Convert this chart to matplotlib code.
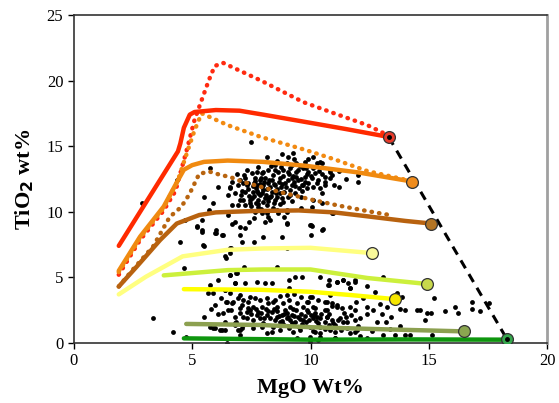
import matplotlib
matplotlib.use("Agg")
import matplotlib.pyplot as plt

plt.rcParams['font.family'] = ['Liberation Serif', 'DejaVu Serif']

# model curves (MgO, TiO2)
red_solid_x = [1.9, 4.4, 4.5, 4.65, 4.9, 5.1, 6.0, 7.0, 8.0, 9.6, 11.5, 13.3]
red_solid_y = [7.4, 14.6, 15.2, 16.4, 17.4, 17.6, 17.75, 17.7, 17.4, 16.9, 16.3, 15.7]

red_dot_x = [1.9, 2.8, 3.8, 4.3, 4.8, 5.1, 5.4, 5.7, 5.95, 6.3, 7.9, 9.7, 11.0, 12.4, 13.3]
red_dot_y = [5.2, 7.85, 10.1, 11.6, 14.9, 17.0, 18.5, 20.0, 21.1, 21.35, 20.0, 18.35, 17.5, 16.6, 15.8]

orange_dot_x = [1.9, 2.8, 3.8, 4.4, 4.8, 5.1, 5.4, 6.5, 7.9, 9.8, 11.0, 12.4, 14.1]
orange_dot_y = [5.4, 8.0, 10.3, 12.4, 14.6, 16.2, 17.5, 16.6, 15.7, 14.7, 14.0, 13.1, 12.4]

orange_x = [1.9, 2.8, 3.8, 4.4, 4.65, 5.0, 5.5, 6.5, 8.0, 9.8, 12.0, 14.3]
orange_y = [5.5, 8.1, 10.4, 12.4, 13.2, 13.55, 13.8, 13.9, 13.8, 13.5, 13.0, 12.3]

brown_dot_x = [1.9, 2.5, 3.35, 4.05, 4.5, 4.7, 4.9, 5.3, 5.75, 6.2, 6.6, 7.1, 8.7, 10.1, 11.1, 12.4, 13.5]
brown_dot_y = [4.3, 5.6, 7.35, 9.6, 10.3, 10.8, 11.4, 12.9, 13.05, 12.8, 12.65, 12.3, 11.5, 10.9, 10.5, 10.05, 9.7]

brown_x = [1.9, 2.65, 3.65, 4.35, 5.3, 6.0, 7.5, 9.5, 11.0, 12.4, 14.0, 15.1]
brown_y = [4.3, 5.8, 7.85, 9.1, 9.75, 9.95, 10.05, 10.1, 9.95, 9.65, 9.3, 9.1]

lyellow_x = [1.9, 3.05, 4.6, 6.5, 8.0, 10.0, 12.6]
lyellow_y = [3.7, 5.05, 6.6, 7.1, 7.2, 7.25, 6.85]

ygreen_x = [3.8, 6.5, 8.0, 10.0, 12.4, 14.9]
ygreen_y = [5.15, 5.55, 5.6, 5.6, 4.95, 4.5]

yellow_x = [4.65, 7.9, 10.0, 11.7, 13.5]
yellow_y = [4.1, 4.05, 3.9, 3.65, 3.35]

olive_x = [4.75, 7.9, 10.0, 13.1, 16.5]
olive_y = [1.45, 1.37, 1.2, 1.04, 0.88]

green_x = [4.65, 10.0, 14.0, 18.3]
green_y = [0.35, 0.25, 0.27, 0.25]

# end-member dots and the dashed join
end_x = [13.3, 14.3, 15.1, 12.6, 14.9, 13.55, 16.5, 18.3]
end_y = [15.7, 12.3, 9.1, 6.85, 4.5, 3.35, 0.9, 0.28]
end_colors = ['#e83a2a', '#f08c1c', '#b37424', '#f8f89a', '#c8d84c',
              '#f6e600', '#8aa650', '#35a64c']

dash_x = [13.3, 18.3]
dash_y = [15.7, 0.28]

# sample analyses
samples = [
    (8.15, 14.15), (8.81, 14.41), (9.03, 14.2), (9.27, 14.5), (8.5, 13.57), (9.0, 13.7),
    (9.2, 13.57), (9.4, 13.7), (9.77, 13.82), (10.26, 13.7), (10.47, 13.7), (7.3, 13.19),
    (7.51, 12.93), (7.72, 13.06), (7.94, 12.93), (8.22, 13.19), (8.64, 13.06), (8.85, 13.19),
    (9.13, 13.31), (9.49, 13.19), (9.91, 13.06), (10.19, 12.93), (10.82, 13.06), (7.02, 12.42),
    (7.23, 12.55), (7.65, 12.55), (7.86, 12.42), (8.08, 12.55), (8.36, 12.42), (8.71, 12.55),
    (9.2, 12.55), (9.4, 12.68), (9.77, 12.68), (10.05, 12.55), (10.61, 12.68), (10.82, 12.55),
    (6.95, 12.04), (7.37, 12.17), (7.72, 12.04), (7.94, 11.92), (8.22, 12.17), (8.5, 12.04),
    (8.92, 12.17), (9.2, 12.04), (9.63, 12.04), (10.12, 11.92), (10.26, 12.17), (10.61, 12.04),
    (6.53, 11.28), (6.81, 11.41), (7.23, 11.53), (7.58, 11.53), (7.79, 11.41), (8.0, 11.66),
    (8.36, 11.53), (8.71, 11.41), (9.13, 11.66), (9.34, 11.41), (9.84, 11.79), (7.16, 10.9),
    (7.51, 11.03), (7.79, 10.9), (8.08, 11.03), (8.5, 10.9), (8.78, 11.03), (9.06, 11.15),
    (6.67, 10.52), (6.95, 10.52), (7.44, 10.65), (7.79, 10.39), (8.15, 10.52), (7.65, 10.01),
    (7.94, 9.88), (8.22, 9.63), (8.64, 9.88), (8.99, 10.01), (8.08, 9.25), (6.53, 9.76),
    (6.81, 9.25), (7.02, 8.87), (7.23, 8.74), (8.99, 9.12), (9.98, 8.99), (10.97, 9.88),
    (9.91, 12.17), (10.4, 11.79), (6.6, 11.92), (8.15, 9.88), (7.86, 11.28), (8.29, 11.15),
    (7.6, 12.2), (7.7, 11.8), (7.9, 12.6), (8.0, 12.0), (8.1, 11.3), (8.3, 11.9), (8.4, 12.8),
    (8.6, 11.7), (8.8, 12.1), (8.9, 11.5), (9.1, 12.9), (9.3, 12.3), (9.5, 11.8), (9.6, 12.5),
    (9.8, 13.3), (8.2, 10.8), (7.4, 11.2), (7.3, 12.0), (7.1, 11.6), (7.5, 10.4), (7.7, 10.7),
    (7.9, 10.2), (8.4, 10.3), (8.7, 10.6), (9.2, 10.8), (7.8, 13.4), (8.5, 13.2), (9.4, 13.0),
    (10.0, 12.7), (10.3, 12.4), (8.0, 13.0), (7.2, 12.8), (6.9, 12.9), (6.7, 12.3), (6.6, 11.8),
    (7.0, 10.9), (8.3, 9.4), (8.9, 9.6), (9.6, 10.3), (7.6, 9.5), (7.4, 9.2), (9.7, 12.0),
    (10.6, 12.3), (10.9, 12.8), (11.2, 13.1), (11.0, 12.0), (11.5, 12.5), (9.3, 14.0),
    (8.6, 13.9), (9.9, 14.0),
    (7.55, 11.95), (7.65, 12.35), (7.75, 11.6), (7.85, 12.15), (7.95, 11.45), (8.05, 12.3),
    (8.15, 11.75), (8.25, 12.45), (8.35, 11.2), (8.45, 12.1), (8.55, 11.45), (8.65, 12.25),
    (8.75, 11.85), (8.85, 12.75), (8.95, 11.9), (9.05, 12.45), (9.15, 11.3), (9.25, 12.7),
    (9.35, 11.95), (9.45, 12.45), (9.55, 13.45), (9.65, 11.6), (9.75, 12.3), (9.85, 12.9),
    (7.45, 10.9), (7.6, 11.2), (7.8, 10.6), (8.0, 10.75), (8.2, 11.05), (8.45, 10.65),
    (8.6, 11.15), (8.85, 10.75), (7.35, 11.75), (7.15, 12.2), (7.05, 11.3), (7.25, 10.5),
    (8.35, 13.5), (8.75, 13.4), (9.05, 13.05), (10.1, 13.3), (10.35, 13.1), (10.5, 12.9),
    (5.75, 13.3), (6.1, 11.9), (5.9, 10.7), (5.7, 10.1), (5.4, 9.4), (5.2, 8.8), (5.4, 8.6),
    (6.0, 8.6), (6.3, 8.2), (6.7, 9.1), (7.47, 15.3), (10.1, 14.2), (11.2, 11.9), (12.0, 12.8),
    (12.0, 12.3), (10.9, 9.9), (10.5, 11.4), (10.5, 10.7), (10.1, 10.9), (9.6, 11.1),
    (9.0, 10.1), (9.0, 9.1), (10.0, 9.0), (10.5, 8.6), (10.0, 8.2), (8.6, 10.1), (8.8, 8.1),
    (5.5, 11.1), (6.0, 8.4), (5.5, 7.4), (4.5, 7.7), (4.7, 9.4), (5.2, 8.9), (2.9, 10.7),
    (9.0, 7.2), (8.6, 5.8), (6.6, 7.2), (6.4, 6.6), (7.2, 5.8), (7.6, 7.7), (8.0, 8.1),
    (7.1, 7.7), (4.65, 5.7), (4.35, 12.4), (10.4, 13.82), (9.7, 13.3), (10.82, 13.18),
    (10.05, 10.39), (10.05, 8.92), (10.54, 8.66), (5.47, 7.47), (5.4, 8.48), (5.96, 8.36),
    (6.24, 8.23), (7.02, 8.23), (6.66, 7.21), (6.59, 6.83), (6.45, 6.45),
    (3.35, 1.88), (4.2, 0.81), (4.76, 0.43), (6.48, 0.0), (6.59, 5.18), (6.87, 5.31),
    (6.8, 4.55), (7.23, 4.55), (6.1, 4.8), (5.75, 4.42), (5.68, 3.78), (5.89, 3.78),
    (6.38, 4.04), (6.59, 3.78), (5.96, 2.9), (6.45, 3.15), (6.73, 3.15), (6.94, 3.4),
    (7.16, 3.27), (6.66, 2.51), (7.02, 2.26), (7.3, 2.39), (6.87, 1.62), (7.09, 1.12),
    (5.75, 1.24), (5.96, 1.12), (6.24, 0.99), (6.8, 1.37), (7.02, 0.99),
    (6.6, 5.18), (6.88, 5.31), (6.81, 4.54), (7.73, 4.67), (8.08, 4.54), (8.36, 4.54),
    (9.07, 4.8), (9.35, 5.05), (9.63, 5.05), (9.07, 4.16), (10.76, 4.8), (10.76, 4.4),
    (11.11, 4.67), (11.39, 4.8), (11.6, 4.54), (11.88, 4.8), (11.67, 4.16), (6.39, 4.04),
    (7.02, 3.65), (7.44, 3.53), (7.66, 3.4), (7.87, 3.27), (8.15, 3.4), (8.43, 3.15),
    (8.99, 3.65), (9.98, 3.53), (6.46, 3.15), (6.67, 3.02), (7.09, 2.9), (7.37, 3.15),
    (7.58, 2.77), (7.94, 2.77), (8.22, 3.02), (8.57, 2.77), (8.85, 3.02), (8.92, 2.51),
    (9.14, 2.77), (9.42, 3.02), (9.7, 2.77), (9.91, 3.15), (9.84, 2.51), (10.19, 2.64),
    (10.61, 3.15), (10.9, 3.02), (10.69, 2.51), (11.11, 2.77), (6.32, 2.26), (7.44, 2.51),
    (7.8, 2.39), (8.15, 2.13), (8.36, 2.39), (8.57, 2.0), (8.78, 2.13), (8.99, 1.88),
    (9.21, 2.13), (9.49, 2.0), (9.7, 1.75), (9.35, 1.62), (8.71, 1.62), (8.5, 1.75),
    (10.12, 1.88), (10.33, 1.5), (10.69, 2.0), (10.9, 1.75), (11.25, 1.88), (11.53, 1.62),
    (11.88, 1.75), (11.04, 1.37), (7.58, 1.75), (7.87, 1.88), (7.16, 2.0), (6.81, 1.5),
    (7.16, 1.37), (7.58, 1.12), (7.94, 1.24), (8.15, 0.74), (8.36, 0.86), (8.71, 0.99),
    (9.07, 1.12), (9.28, 0.86), (9.56, 0.99), (9.98, 1.24), (10.19, 0.86), (10.4, 0.74),
    (9.42, 0.36), (9.98, 0.48), (10.33, 0.23), (5.89, 1.12), (6.18, 0.99), (6.39, 0.99),
    (6.95, 0.99), (7.02, 0.61), (11.04, 0.86), (11.04, 0.36), (11.53, 1.12), (11.88, 0.86),
    (7.9, 2.3), (8.1, 2.6), (8.3, 1.9), (8.6, 2.4), (8.8, 1.7), (9.0, 2.3), (9.2, 1.5),
    (9.4, 2.5), (9.6, 2.2), (9.8, 1.6), (10.0, 2.1), (10.2, 2.3), (10.4, 1.9), (10.6, 1.6),
    (8.5, 3.3), (8.7, 3.6), (9.1, 3.3), (9.3, 3.7), (9.6, 3.5), (10.3, 3.3), (10.8, 2.2),
    (11.4, 2.3), (11.7, 2.1), (12.1, 1.9), (12.4, 2.2), (12.8, 1.6), (11.9, 3.1), (12.2, 3.4),
    (7.3, 1.9), (7.5, 2.2), (7.0, 2.7), (6.8, 2.0), (6.5, 2.5), (6.2, 3.4), (6.4, 1.6),
    (8.0, 1.5), (8.4, 1.2), (9.5, 1.2), (10.1, 0.9), (10.6, 1.1), (11.3, 1.0), (12.0, 1.3),
    (12.6, 0.9), (13.2, 1.6), (13.0, 2.2), (13.4, 2.0),
    (8.65, 2.05), (8.9, 2.2), (9.05, 1.95), (9.3, 2.05), (9.55, 1.85), (9.75, 2.05),
    (9.95, 1.75), (10.15, 2.1), (9.15, 1.75), (8.85, 1.45), (9.65, 1.45), (10.25, 1.65),
    (8.2, 2.45), (8.45, 2.6), (9.25, 2.55), (9.9, 2.35), (10.45, 2.2), (10.1, 2.75),
    (8.05, 1.9), (7.7, 2.55), (7.35, 2.7), (7.75, 2.1), (10.8, 1.35), (11.5, 2.0),
    (5.5, 2.0), (5.8, 2.6), (6.1, 2.2),
    (10.4, 5.05), (13.05, 5.05), (11.39, 4.8), (11.88, 4.67), (12.37, 4.37), (10.75, 4.42),
    (11.1, 4.67), (11.67, 4.17), (12.73, 3.91), (10.82, 3.66), (13.64, 3.84), (13.85, 3.48),
    (15.2, 3.4), (14.9, 2.26), (15.1, 2.3), (14.63, 2.51), (14.5, 2.48), (14.84, 1.75),
    (15.69, 2.46), (16.11, 2.72), (16.25, 2.26), (16.82, 3.1), (16.82, 2.55), (17.52, 3.02),
    (17.17, 2.46), (13.99, 2.51), (13.78, 2.6), (13.22, 2.77), (12.94, 2.98), (12.66, 2.51),
    (12.37, 2.77), (11.88, 2.51), (11.67, 2.77), (11.32, 2.64), (11.1, 2.9), (10.9, 2.8),
    (10.68, 3.15), (10.61, 2.51), (9.84, 3.15), (10.05, 3.53), (10.26, 2.0), (10.68, 2.0),
    (11.18, 1.75), (10.97, 1.5), (11.39, 1.6), (10.4, 1.24), (10.82, 0.99), (11.67, 0.74),
    (11.95, 0.99), (12.37, 0.36), (12.1, 0.55), (13.08, 0.61), (13.36, 1.1), (13.79, 1.29),
    (13.57, 0.61), (14.0, 0.61), (14.2, 0.61), (15.12, 0.61), (11.04, 0.36), (10.4, 0.48),
    (9.98, 0.1),
]
sample_mgo = [p[0] for p in samples]
sample_tio2 = [p[1] for p in samples]

fig = plt.figure(figsize=(5.59, 4.03), dpi=100)
ax = fig.add_axes([0.132, 0.149, 0.847, 0.814])

ax.scatter(sample_mgo, sample_tio2, s=12, color='black', zorder=2, linewidths=0)

dot = dict(linestyle=(0, (0.1, 1.6)), dash_capstyle='round', lw=3.2, zorder=3)
ax.plot(red_dot_x, red_dot_y, color='#ff2a10', **dot)
ax.plot(orange_dot_x, orange_dot_y, color='#f28a12', **dot)
ax.plot(brown_dot_x, brown_dot_y, color='#b8640f', **dot)

solid = dict(lw=3.2, solid_capstyle='round', zorder=3)
ax.plot(red_solid_x, red_solid_y, color='#ff2a00', **solid)
ax.plot(orange_x, orange_y, color='#f08a10', **solid)
ax.plot(brown_x, brown_y, color='#b8620f', **solid)
ax.plot(lyellow_x, lyellow_y, color='#ffff80', **solid)
ax.plot(ygreen_x, ygreen_y, color='#ccf03c', **solid)
ax.plot(yellow_x, yellow_y, color='#ffff00', **solid)
ax.plot(olive_x, olive_y, color='#8ca050', **solid)
ax.plot(green_x, green_y, color='#0e960e', **solid)

ax.plot(dash_x, dash_y, color='black', lw=2.2, linestyle=(0, (3, 2.2)), zorder=4)

for x, y, c in zip(end_x, end_y, end_colors):
    ax.plot(x, y, 'o', ms=8.5, mfc=c, mec='#333333', mew=0.9, zorder=5)
ax.plot(end_x[0], end_y[0], 'o', ms=2.5, color='black', zorder=6)
ax.plot(end_x[-1], end_y[-1], 'o', ms=2.5, color='black', zorder=6)

ax.set_xlim(0, 20)
ax.set_ylim(0, 25)
ax.set_xticks([0, 5, 10, 15, 20])
ax.set_yticks([0, 5, 10, 15, 20, 25])
ax.tick_params(direction='out', length=4, width=1, labelsize=12, colors='black')

for s in ['left', 'bottom', 'top']:
    ax.spines[s].set_color('#333333')
    ax.spines[s].set_linewidth(1.2)
ax.spines['right'].set_color('#a0a0a0')
ax.spines['right'].set_linewidth(2)

ax.set_xlabel('MgO Wt%', fontsize=16, fontweight='bold', labelpad=6)
ax.set_ylabel('TiO$_\\mathbf{2}$ wt%', fontsize=16, fontweight='bold', labelpad=8)

fig.savefig('out.png', dpi=100)
